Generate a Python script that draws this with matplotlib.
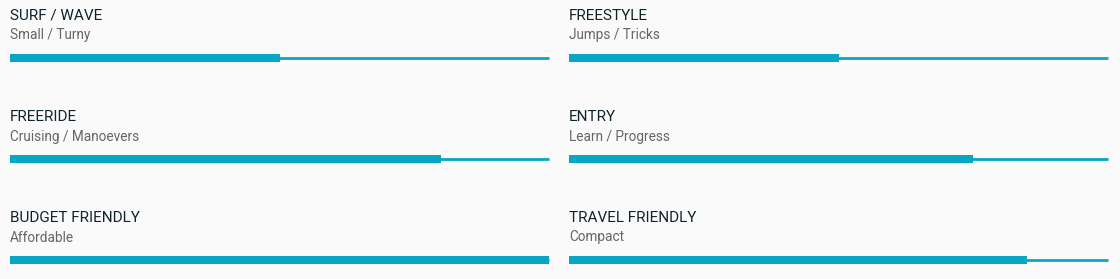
import matplotlib.pyplot as plt

# rating panels: title, subtitle, value (0..1)
titles = ['SURF / WAVE', 'FREESTYLE', 'FREERIDE', 'ENTRY', 'BUDGET FRIENDLY', 'TRAVEL FRIENDLY']
subtitles = ['Small / Turny', 'Jumps / Tricks', 'Cruising / Manoevers', 'Learn / Progress',
             'Affordable', 'Compact']
values = [0.50, 0.50, 0.80, 0.75, 1.00, 0.85]

color = '#07a6c4'
W, H = 1120, 279

fig = plt.figure(figsize=(W / 100, H / 100), dpi=100, facecolor='#fafafa')
ax = fig.add_axes([0, 0, 1, 1])
ax.set_xlim(0, W)
ax.set_ylim(H, 0)
ax.axis('off')

col_x = [10, 569]
bar_w = 539
row_y = [0, 101, 202]

for i, (t, s, v) in enumerate(zip(titles, subtitles, values)):
    x0 = col_x[i % 2]
    y0 = row_y[i // 2]
    ax.text(x0, y0 + 16, t, fontsize=11, family='Roboto', color='#10232b',
            va='center', ha='left')
    ax.text(x0, y0 + 35.5, s, fontsize=9.8, family='Roboto', color='#666666', va='center', ha='left')
    ax.plot([x0, x0 + bar_w], [y0 + 58, y0 + 58], color=color, lw=2.0, solid_capstyle='butt')
    ax.barh(y0 + 58, v * bar_w, left=x0, height=8, color=color)

fig.savefig('out.png', dpi=100, facecolor=fig.get_facecolor())
